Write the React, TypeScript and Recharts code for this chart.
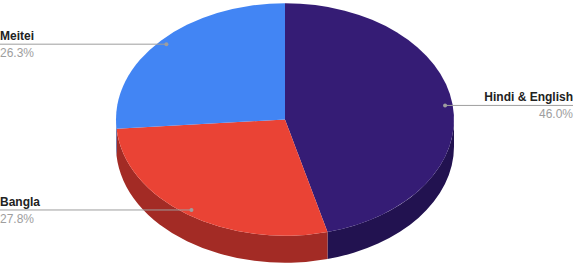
import React from "react";
import { PieChart, Pie, Cell } from "recharts";

const languages = ["Hindi & English", "Bangla", "Meitei"];
const shares = [46.0, 27.8, 26.3];
const topColors = ["#351c75", "#ea4335", "#4285f4"];
const sideColors = ["#221250", "#a32b25", "#2a5cb0"];

const data = languages.map((name, i) => ({ name, value: shares[i] }));

const W = 574;
const H = 264;
const CX = 285;
const CY = 119.5;
const RX = 169;
const TILT = 0.688;
const DEPTH = 27;
const RAD = Math.PI / 180;

const pt = (cx: number, cy: number, rx: number, ry: number, a: number) => [
  cx + rx * Math.cos(a * RAD),
  cy - ry * Math.sin(a * RAD),
];

// elliptical slice with a side wall for the part that faces the viewer
const Slice3D = (props: any) => {
  const { cx, cy, outerRadius, startAngle, endAngle, index } = props;
  const rx = outerRadius;
  const ry = outerRadius * TILT;
  const hi = Math.max(startAngle, endAngle);
  const lo = Math.min(startAngle, endAngle);
  const [sx, sy] = pt(cx, cy, rx, ry, hi);
  const [ex, ey] = pt(cx, cy, rx, ry, lo);
  const large = hi - lo > 180 ? 1 : 0;
  const top = `M${cx},${cy} L${sx},${sy} A${rx},${ry} 0 ${large} 1 ${ex},${ey} Z`;

  const sides: string[] = [];
  [-540, -180, 180].forEach((base) => {
    const a1 = Math.min(hi, base + 180);
    const a2 = Math.max(lo, base);
    if (a1 > a2 + 0.01) {
      const [x1, y1] = pt(cx, cy, rx, ry, a1);
      const [x2, y2] = pt(cx, cy, rx, ry, a2);
      sides.push(
        `M${x1},${y1} A${rx},${ry} 0 0 1 ${x2},${y2} L${x2},${y2 + DEPTH} A${rx},${ry} 0 0 0 ${x1},${y1 + DEPTH} Z`
      );
    }
  });

  return (
    <g>
      {sides.map((d, k) => (
        <path key={k} d={d} fill={sideColors[index]} />
      ))}
      <path d={top} fill={topColors[index]} />
    </g>
  );
};

const renderLabel = (props: any) => {
  const { cx, cy, outerRadius, midAngle, percent, name } = props;
  const [dx, dy] = pt(cx, cy, outerRadius * 0.955, outerRadius * TILT * 0.955, midAngle);
  const right = Math.cos(midAngle * RAD) >= 0;
  const edge = right ? W - 1 : 0;
  return (
    <g>
      <line x1={dx} y1={dy} x2={edge} y2={dy} stroke="#9e9e9e" strokeWidth={1} />
      <circle cx={dx} cy={dy} r={2} fill="#9e9e9e" />
      <text
        x={edge}
        y={dy - 4}
        textAnchor={right ? "end" : "start"}
        fontFamily="Arial, 'Liberation Sans', sans-serif"
        fontSize={12}
        fontWeight="bold"
        fill="#222222"
      >
        {name}
      </text>
      <text
        x={edge}
        y={dy + 13}
        textAnchor={right ? "end" : "start"}
        fontFamily="Arial, 'Liberation Sans', sans-serif"
        fontSize={12}
        fill="#9e9e9e"
      >
        {(percent * 100).toFixed(1)}%
      </text>
    </g>
  );
};

export default function App() {
  return (
    <div style={{ position: "absolute", left: 0, top: 0, width: W, height: H, background: "#fff" }}>
      <PieChart width={W} height={H} margin={{ top: 0, right: 0, bottom: 0, left: 0 }}>
        <Pie
          data={data}
          dataKey="value"
          nameKey="name"
          cx={CX}
          cy={CY}
          outerRadius={RX}
          startAngle={90}
          endAngle={-270}
          stroke="none"
          shape={Slice3D}
          activeShape={Slice3D}
          label={renderLabel}
          labelLine={false}
          isAnimationActive={false}
        >
          {data.map((_, i) => (
            <Cell key={`cell-${i}`} fill={topColors[i]} />
          ))}
        </Pie>
      </PieChart>
    </div>
  );
}
